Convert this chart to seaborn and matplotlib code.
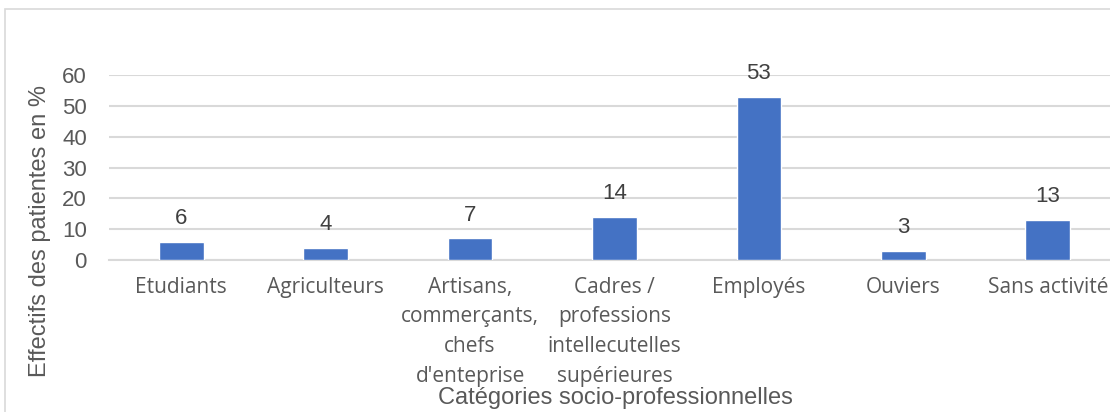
import matplotlib
matplotlib.use("Agg")
import matplotlib.pyplot as plt
import seaborn as sns
import pandas as pd
from matplotlib.patches import Rectangle

# DATA
categories = [
    "Etudiants",
    "Agriculteurs",
    "Artisans,\ncommerçants,\nchefs\nd'enteprise",
    "Cadres /\nprofessions\nintellecutelles\nsupérieures",
    "Employés",
    "Ouviers",
    "Sans activité",
]
values = [6, 4, 7, 14, 53, 3, 13]
y_ticks = [0, 10, 20, 30, 40, 50, 60]

BAR_COLOR  = "#4472C4"
GRID_COLOR = "#d9d9d9"
TEXT_GRAY  = "#595959"

sns.set_style("white")

df = pd.DataFrame({"cat": categories, "val": values})

fig = plt.figure(figsize=(11.1, 4.12), dpi=100)
ax = fig.add_axes([109 / 1110, 1 - 260 / 412, 1011 / 1110, 185 / 412])

sns.barplot(data=df, x="cat", y="val", color=BAR_COLOR, width=0.31,
            saturation=1, ax=ax, zorder=3)

ax.set_ylim(0, 60)
ax.set_xlim(-0.5, len(categories) - 0.5)
ax.set_yticks(y_ticks)
ax.set_yticklabels([str(t) for t in y_ticks], fontsize=16, color=TEXT_GRAY,
                   family="Liberation Sans")
ax.set_xticklabels(categories, fontsize=15, color=TEXT_GRAY, family="Open Sans",
                   linespacing=1.55, va="top")
ax.tick_params(axis="both", length=0)
ax.tick_params(axis="x", pad=12)
ax.tick_params(axis="y", pad=16)
ax.grid(axis="y", color=GRID_COLOR, linewidth=1.5, zorder=0)
ax.set_axisbelow(True)
for s in ["top", "right", "left"]:
    ax.spines[s].set_visible(False)
ax.spines["bottom"].set_color(GRID_COLOR)
ax.spines["bottom"].set_linewidth(1.5)
ax.set_xlabel("")
ax.set_ylabel("")

for i, v in enumerate(values):
    ax.annotate(str(v), (i, v), xytext=(0, 9), textcoords="offset points",
                ha="center", va="bottom", fontsize=16, color="#404040",
                family="Liberation Sans")

fig.text(40 / 1110, 1 - 231 / 412, "Effectifs des patientes en %", rotation=90,
         ha="center", va="center", fontsize=17, color=TEXT_GRAY,
         family="Liberation Sans")
fig.text(615 / 1110, 1 - 398 / 412, "Catégories socio-professionnelles",
         ha="center", va="center", fontsize=17, color=TEXT_GRAY,
         family="Liberation Sans")

# chart frame
fig.patches.append(Rectangle((5 / 1110, -0.1), 1.2, 1 - 9 / 412 + 0.1,
                             transform=fig.transFigure, fill=False,
                             edgecolor=GRID_COLOR, linewidth=1.2))

fig.savefig("out.png", dpi=100)
